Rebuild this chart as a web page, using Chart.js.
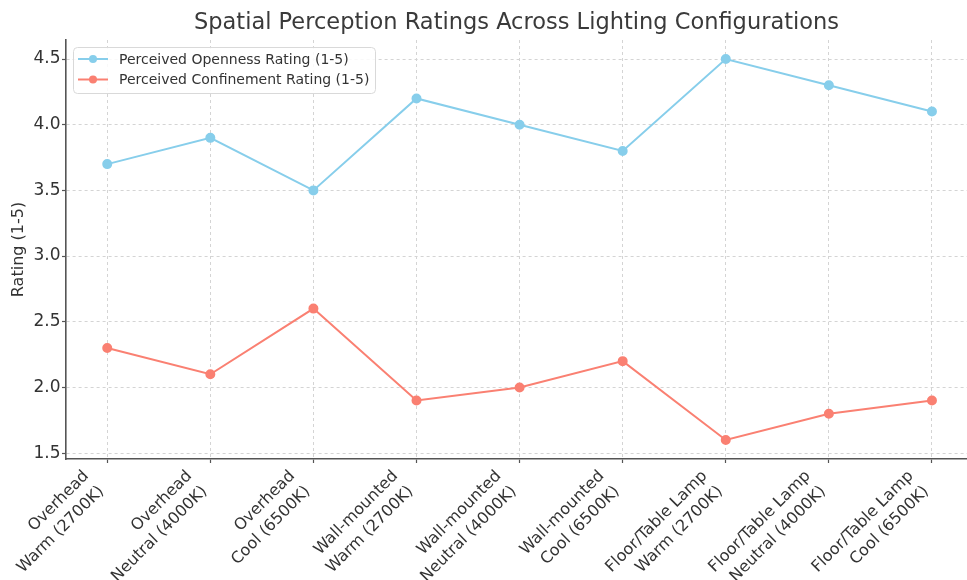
<!DOCTYPE html>
<html>
<head>
<meta charset="utf-8">
<script src="https://cdn.jsdelivr.net/npm/chart.js@4/dist/chart.umd.min.js"></script>
<style>
  html, body { margin: 0; padding: 0; background: #fff; overflow: hidden; }
  #wrap { width: 967px; height: 580px; }
</style>
</head>
<body>
<div id="wrap"><canvas id="c" width="967" height="580"></canvas></div>
<script>
// Lighting configurations (two-line labels) and mean ratings per configuration
const categories = [
  ["Overhead", "Warm (2700K)"],
  ["Overhead", "Neutral (4000K)"],
  ["Overhead", "Cool (6500K)"],
  ["Wall-mounted", "Warm (2700K)"],
  ["Wall-mounted", "Neutral (4000K)"],
  ["Wall-mounted", "Cool (6500K)"],
  ["Floor/Table Lamp", "Warm (2700K)"],
  ["Floor/Table Lamp", "Neutral (4000K)"],
  ["Floor/Table Lamp", "Cool (6500K)"]
];
const opennessRatings    = [3.7, 3.9, 3.5, 4.2, 4.0, 3.8, 4.5, 4.3, 4.1];
const confinementRatings = [2.3, 2.1, 2.6, 1.9, 2.0, 2.2, 1.6, 1.8, 1.9];
const yTicks = [1.5, 2.0, 2.5, 3.0, 3.5, 4.0, 4.5];

const FONT = "'DejaVu Sans', sans-serif";
const TEXT = '#333333';
const SPINE = '#555555';
const GRID = '#d4d4d4';
const X_LABEL_SIZE = 16;

const toPoints = vals => vals.map((v, i) => ({ x: i, y: v }));

// Category labels: rotated 45°, lines right-aligned, the rotated block
// hanging with its right edge on the tick and its top just under the axis
const slantedLabels = {
  id: 'slantedLabels',
  afterDraw(chart) {
    const ctx = chart.ctx;
    const xs = chart.scales.x;
    const top = chart.chartArea.bottom + 7;
    const fs = X_LABEL_SIZE;
    const lh = fs * 1.35, asc = fs * 0.93, desc = fs * 0.24;
    const c = Math.SQRT1_2;
    ctx.save();
    ctx.font = fs + 'px ' + FONT;
    ctx.fillStyle = TEXT;
    ctx.textAlign = 'right';
    ctx.textBaseline = 'alphabetic';
    categories.forEach((lines, i) => {
      const h = asc + desc + (lines.length - 1) * lh;
      const tx = xs.getPixelForValue(i) - c * h;
      ctx.save();
      ctx.translate(tx, top);
      ctx.rotate(-Math.PI / 4);
      lines.forEach((t, j) => ctx.fillText(t, 0, asc + j * lh));
      ctx.restore();
    });
    ctx.restore();
  }
};

// Legend box drawn inside the plot, top-left corner
const innerLegend = {
  id: 'innerLegend',
  afterDraw(chart) {
    const ctx = chart.ctx;
    const area = chart.chartArea;
    const x0 = area.left + 7, y0 = area.top + 7;
    const w = 302, h = 46, r = 4;
    ctx.save();
    ctx.fillStyle = 'rgba(255,255,255,0.85)';
    ctx.strokeStyle = '#d9d9d9';
    ctx.lineWidth = 1;
    ctx.beginPath();
    ctx.roundRect(x0 + 0.5, y0 + 0.5, w, h, r);
    ctx.fill();
    ctx.stroke();
    ctx.font = '14px ' + FONT;
    ctx.textBaseline = 'middle';
    chart.data.datasets.forEach((ds, i) => {
      const cy = y0 + 12 + i * 20.5;
      ctx.strokeStyle = ds.borderColor;
      ctx.lineWidth = 2;
      ctx.beginPath();
      ctx.moveTo(x0 + 5, cy);
      ctx.lineTo(x0 + 35, cy);
      ctx.stroke();
      ctx.fillStyle = ds.borderColor;
      ctx.beginPath();
      ctx.arc(x0 + 20, cy, 4, 0, Math.PI * 2);
      ctx.fill();
      ctx.fillStyle = TEXT;
      ctx.fillText(ds.label, x0 + 46, cy + 1);
    });
    ctx.restore();
  }
};

new Chart(document.getElementById('c'), {
  type: 'line',
  data: {
    datasets: [
      {
        label: 'Perceived Openness Rating (1-5)',
        data: toPoints(opennessRatings),
        borderColor: '#87CEEB',
        backgroundColor: '#87CEEB',
        borderWidth: 2,
        pointRadius: 4,
        pointHoverRadius: 4,
        tension: 0
      },
      {
        label: 'Perceived Confinement Rating (1-5)',
        data: toPoints(confinementRatings),
        borderColor: '#FA8072',
        backgroundColor: '#FA8072',
        borderWidth: 2,
        pointRadius: 4,
        pointHoverRadius: 4,
        tension: 0
      }
    ]
  },
  options: {
    responsive: false,
    animation: false,
    layout: { padding: 0, autoPadding: false },
    plugins: {
      legend: { display: false },
      tooltip: { enabled: false },
      title: {
        display: true,
        text: 'Spatial Perception Ratings Across Lighting Configurations',
        color: '#3a3a3a',
        fullSize: false,
        font: { family: FONT, size: 22.5, weight: 'normal' },
        padding: { top: 9.5, bottom: 3.5 }
      }
    },
    scales: {
      x: {
        type: 'linear',
        min: -0.4,
        max: 8.34,
        afterBuildTicks: s => { s.ticks = categories.map((_, i) => ({ value: i })); },
        afterFit: s => { s.height = 121; s.paddingLeft = 0; s.paddingRight = 0; },
        ticks: { display: false },
        grid: { color: GRID, tickColor: SPINE, tickLength: 4, tickWidth: 1.2 },
        border: { display: true, color: SPINE, width: 1.6, dash: [3, 3] }
      },
      y: {
        type: 'linear',
        min: 1.455,
        max: 4.645,
        afterBuildTicks: s => { s.ticks = yTicks.map(v => ({ value: v })); },
        afterFit: s => { s.width = 66; },
        ticks: {
          color: TEXT,
          padding: 1.5,
          font: { family: FONT, size: 17 },
          callback: v => v.toFixed(1)
        },
        title: {
          display: true,
          text: 'Rating (1-5)',
          color: TEXT,
          font: { family: FONT, size: 16 },
          padding: { top: 9.5, bottom: 0 }
        },
        grid: { color: GRID, tickColor: SPINE, tickLength: 4, tickWidth: 1.2 },
        border: { display: true, color: SPINE, width: 1.6, dash: [3, 3] }
      }
    }
  },
  plugins: [slantedLabels, innerLegend]
});
</script>
</body>
</html>
